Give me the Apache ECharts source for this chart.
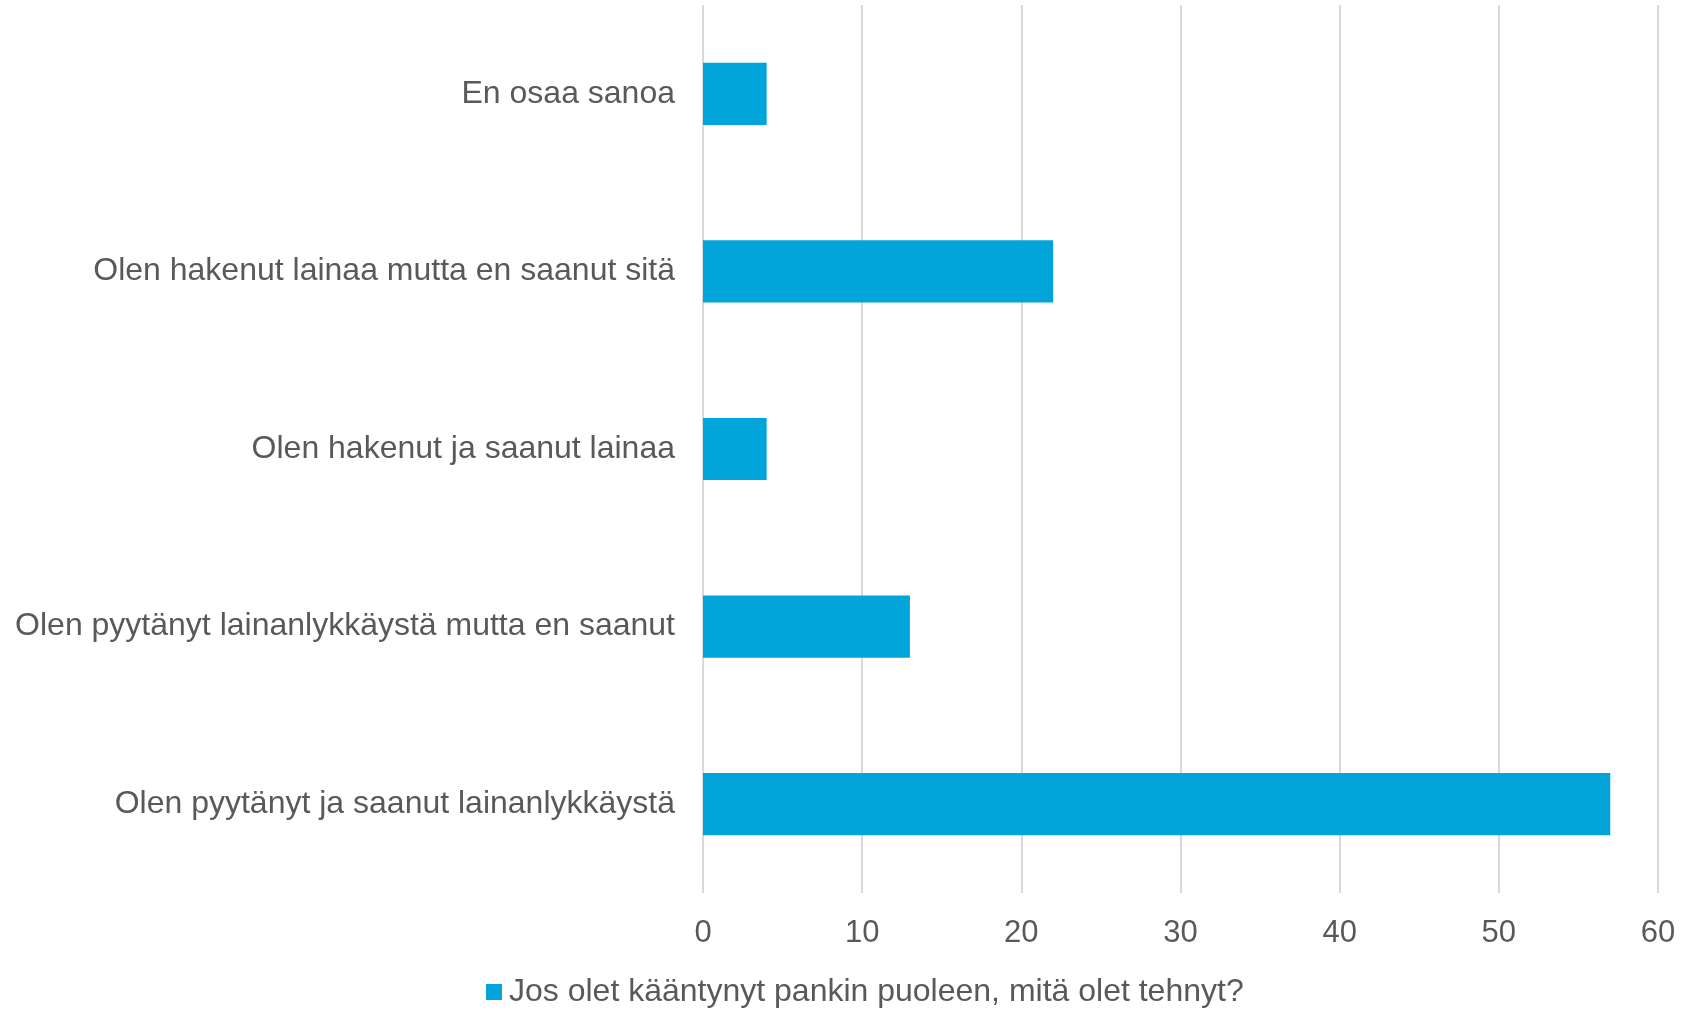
<!DOCTYPE html>
<html>
<head>
<meta charset="utf-8">
<script src="https://cdn.jsdelivr.net/npm/echarts@6/dist/echarts.min.js"></script>
<style>
  html, body { margin: 0; padding: 0; background: #fff; }
  #main { width: 1685px; height: 1011px; }
</style>
</head>
<body>
<div id="main"></div>
<script>
// alhaalta ylös, kuten ECharts piirtää kategoria-akselin
var categories = [
  "Olen pyytänyt ja saanut lainanlykkäystä",
  "Olen pyytänyt lainanlykkäystä mutta en saanut",
  "Olen hakenut ja saanut lainaa",
  "Olen hakenut lainaa mutta en saanut sitä",
  "En osaa sanoa"
];
var values = [57, 13, 4, 22, 4];
var seriesName = "Jos olet kääntynyt pankin puoleen, mitä olet tehnyt?";
var xTicks = [0, 10, 20, 30, 40, 50, 60];

var textColor = "#595959";
var font = "'Liberation Sans', Arial, sans-serif";

var chart = echarts.init(document.getElementById("main"));
chart.setOption({
  animation: false,
  grid: { left: 703, right: 27, top: 5, bottom: 118 },
  legend: {
    data: [seriesName],
    bottom: -2,
    left: 481,
    icon: "rect",
    itemWidth: 16,
    itemHeight: 16,
    itemGap: 10,
    textStyle: { color: textColor, fontSize: 32, fontFamily: font, padding: [0, 0, 0, 2] }
  },
  xAxis: {
    type: "value",
    min: xTicks[0],
    max: xTicks[xTicks.length - 1],
    interval: 10,
    axisLine: { show: false },
    axisTick: { show: false },
    axisLabel: { color: textColor, fontSize: 31, fontFamily: font, margin: 25 },
    splitLine: { lineStyle: { color: "#d9d9d9", width: 2 } }
  },
  yAxis: {
    type: "category",
    data: categories,
    axisLine: { show: false },
    axisTick: { show: false },
    axisLabel: { color: textColor, fontSize: 32, fontFamily: font, margin: 28, padding: [4, 0, 0, 0] }
  },
  series: [{
    name: seriesName,
    type: "bar",
    data: values,
    barCategoryGap: "65%",
    itemStyle: { color: "#02a4d9" }
  }]
});
</script>
</body>
</html>
